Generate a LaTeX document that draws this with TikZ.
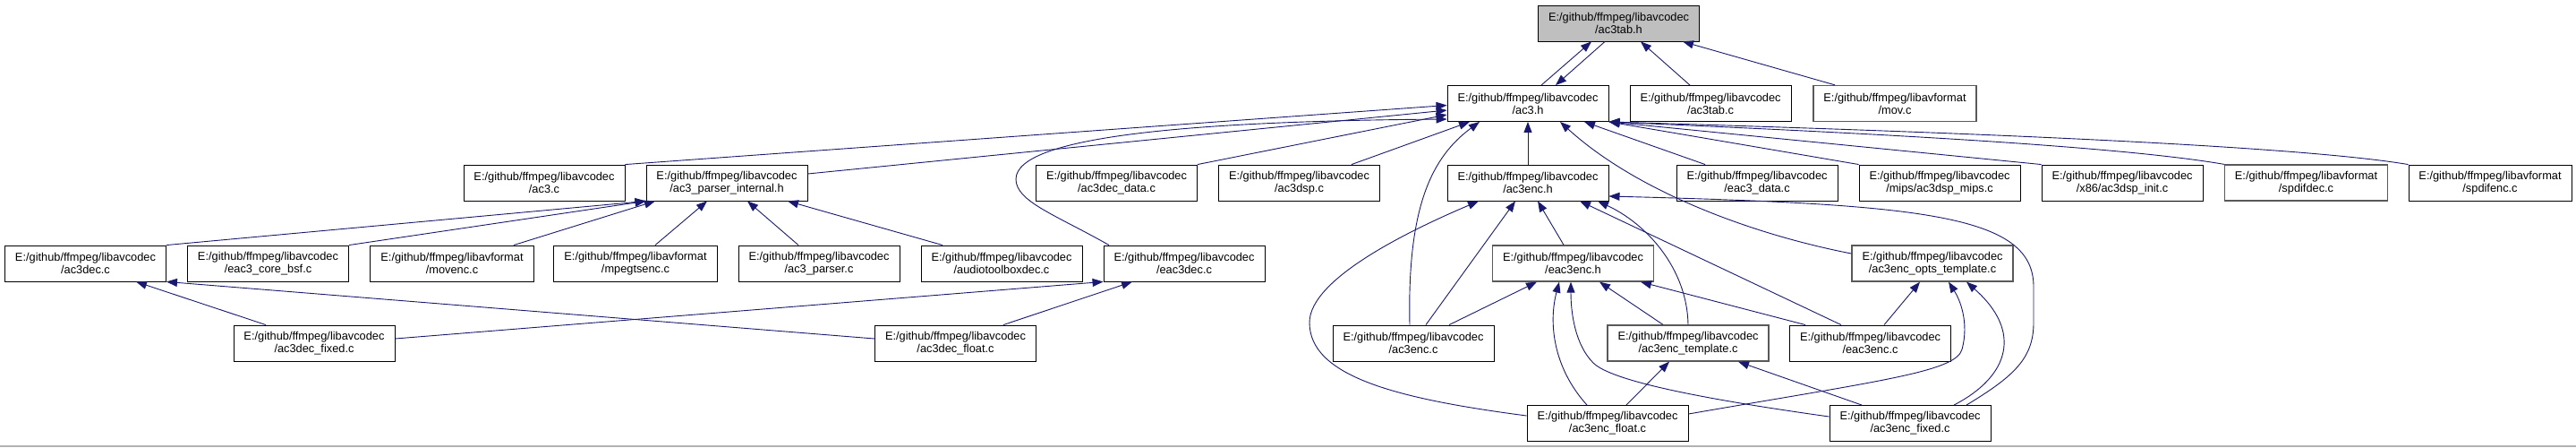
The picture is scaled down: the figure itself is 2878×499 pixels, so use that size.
\documentclass[tikz,border=0pt]{standalone}
\usepackage{fontspec}
\setmainfont{Liberation Sans}
\usepackage{xcolor}
\usepackage{tikz}
\usetikzlibrary{arrows.meta, positioning}
\definecolor{edgeblue}{HTML}{191970}
\newcommand{\avc}[1]{E:/github/ffmpeg/libavcodec\\/#1}
\newcommand{\avf}[1]{E:/github/ffmpeg/libavformat\\/#1}

\begin{document}
\begin{tikzpicture}[x=1pt, y=-1pt,
  file/.style={draw=black, fill=white, line width=0.9pt, minimum height=40pt, inner xsep=11.5pt, inner ysep=2pt, align=center, font=\fontsize{12.8}{14}\selectfont},
  grayfile/.style={file, draw=black!65, line width=1.3pt},
  focus/.style={file, fill=black!25},
  dep/.style={edgeblue, line width=0.9pt, -{Triangle[length=12pt, width=9pt]}}
]
  \useasboundingbox (0,0) rectangle (2878,499);
  \draw[black!30, line width=1.5pt] (0,498.2) -- (2878,498.2);

  % Row 0
  \node[focus] (ac3tabh) at (1808.5,26) {\avc{ac3tab.h}};

  % Row 1
  \node[file] (ac3h) at (1707,115.5) {\avc{ac3.h}};
  \node[file] (ac3tabc) at (1911,115.5) {\avc{ac3tab.c}};
  \node[grayfile] (movc) at (2117,115.5) {\avf{mov.c}};

  % Row 2
  \node[file] (ac3c) at (608,204) {\avc{ac3.c}};
  \node[file] (apih) at (812,204) {\avc{ac3\_parser\_internal.h}};
  \node[file] (ac3decdata) at (1247.5,204) {\avc{ac3dec\_data.c}};
  \node[file] (ac3dsp) at (1451.5,204) {\avc{ac3dsp.c}};
  \node[file] (ac3ench) at (1707,204) {\avc{ac3enc.h}};
  \node[file] (eac3data) at (1963,204) {\avc{eac3\_data.c}};
  \node[file] (mips) at (2167,204) {\avc{mips/ac3dsp\_mips.c}};
  \node[file] (x86) at (2371,204) {\avc{x86/ac3dsp\_init.c}};
  \node[grayfile] (spdifdec) at (2576.5,204) {\avf{spdifdec.c}};
  \node[file] (spdifenc) at (2782,204) {\avf{spdifenc.c}};

  % Row 3
  \node[file] (ac3decc) at (95.5,294) {\avc{ac3dec.c}};
  \node[file] (eac3corebsf) at (299.5,294) {\avc{eac3\_core\_bsf.c}};
  \node[file] (movenc) at (505,294) {\avf{movenc.c}};
  \node[file] (mpegtsenc) at (710,294) {\avf{mpegtsenc.c}};
  \node[file] (ac3parser) at (915,294) {\avc{ac3\_parser.c}};
  \node[file] (atbdec) at (1119,294) {\avc{audiotoolboxdec.c}};
  \node[file] (eac3decc) at (1323,294) {\avc{eac3dec.c}};
  \node[grayfile] (eac3ench) at (1757.5,294) {\avc{eac3enc.h}};
  \node[grayfile] (optstpl) at (2159,294) {\avc{ac3enc\_opts\_template.c}};

  % Row 4
  \node[file] (ac3decfixed) at (351,383) {\avc{ac3dec\_fixed.c}};
  \node[file] (ac3decfloat) at (1067.5,383) {\avc{ac3dec\_float.c}};
  \node[file] (ac3encc) at (1579,383) {\avc{ac3enc.c}};
  \node[grayfile] (enctpl) at (1886,383) {\avc{ac3enc\_template.c}};
  \node[file] (eac3encc) at (2089.5,383) {\avc{eac3enc.c}};

  % Row 5
  \node[file] (encfloat) at (1796,472.5) {\avc{ac3enc\_float.c}};
  \node[file] (encfixed) at (2134,472.5) {\avc{ac3enc\_fixed.c}};

  % into ac3tab.h
  \draw[dep] ([xshift=15pt]ac3h.north) -- ([xshift=-30.5pt]ac3tabh.south);
  \draw[dep] ([xshift=-15.5pt]ac3tabh.south) -- ([xshift=31pt]ac3h.north);
  \draw[dep] ([xshift=-23pt]ac3tabc.north) -- ([xshift=24.5pt]ac3tabh.south);
  \draw[dep] ([xshift=-67pt]movc.north) -- ([xshift=71.5pt]ac3tabh.south);

  % into ac3.h
  \draw[dep] (ac3c.north east) -- ([yshift=-2pt]ac3h.west);
  \draw[dep] ([yshift=10pt]apih.east) -- ([yshift=-7.5pt]ac3h.west);
  \draw[dep] (ac3decdata.north east) -- ([yshift=-12.5pt]ac3h.west);
  \draw[dep] ([xshift=-84pt]eac3decc.north) .. controls (1180,240) and (1135,225) .. (1135,200)
    .. controls (1135,150) and (1350,135) .. ([yshift=-17.5pt]ac3h.west);
  \draw[dep] ([xshift=58.5pt]ac3dsp.north) -- ([xshift=-65pt]ac3h.south);
  \draw[dep] ([xshift=-4pt]ac3encc.north) .. controls (1572,230) and (1600,175) .. ([xshift=-54pt]ac3h.south);
  \draw[dep] (ac3ench) -- (ac3h);
  \draw[dep] ([yshift=11pt]optstpl.west) .. controls (1960,262) and (1830,215) .. ([xshift=36pt]ac3h.south);
  \draw[dep] ([xshift=-58pt]eac3data.north) -- ([xshift=63pt]ac3h.south);
  \draw[dep] (mips.north west) -- (ac3h.south east);
  \draw[dep] (x86.north west) -- (ac3h.south east);
  \draw[dep] (spdifdec.north west) .. controls (2350,160) and (2000,145) .. (ac3h.south east);
  \draw[dep] (spdifenc.north west) .. controls (2550,160) and (2100,145) .. (ac3h.south east);

  % into ac3_parser_internal.h
  \draw[dep] (ac3decc.north east) -- (apih.south west);
  \draw[dep] (eac3corebsf.north east) -- (apih.south west);
  \draw[dep] ([xshift=69pt]movenc.north) -- ([xshift=-80pt]apih.south);
  \draw[dep] ([xshift=22pt]mpegtsenc.north) -- ([xshift=-22pt]apih.south);
  \draw[dep] ([xshift=-23pt]ac3parser.north) -- ([xshift=23pt]apih.south);
  \draw[dep] ([xshift=-66pt]atbdec.north) -- ([xshift=68pt]apih.south);

  % into ac3dec.c / eac3dec.c
  \draw[dep] ([xshift=-54pt]ac3decfixed.north) -- ([xshift=56.5pt]ac3decc.south);
  \draw[dep] ([yshift=5pt]ac3decfloat.west) -- (ac3decc.south east);
  \draw[dep] ([yshift=5pt]ac3decfixed.east) -- (eac3decc.south west);
  \draw[dep] ([xshift=53.5pt]ac3decfloat.north) -- ([xshift=-58pt]eac3decc.south);

  % into ac3enc.h
  \draw[dep] ([xshift=14pt]ac3encc.north) -- ([xshift=-14pt]ac3ench.south);
  \draw[dep] ([yshift=8.5pt]encfloat.west) .. controls (1560,445) and (1463,420) .. (1463,360)
    .. controls (1463,310) and (1580,255) .. ([xshift=-55pt]ac3ench.south);
  \draw[dep] ([xshift=-10.5pt]eac3ench.north) -- ([xshift=11pt]ac3ench.south);
  \draw[dep] ([xshift=-32.5pt]eac3encc.north) -- ([xshift=58pt]ac3ench.south);
  \draw[dep] (enctpl.north) .. controls (1885,300) and (1840,250) .. ([xshift=78pt]ac3ench.south);
  \draw[dep] ([xshift=63pt]encfixed.north) .. controls (2250,420) and (2272,400) .. (2272,360) -- (2272,320)
    .. controls (2272,240) and (2150,228) .. ([yshift=-15pt]ac3ench.east);

  % into eac3enc.h
  \draw[dep] ([xshift=40pt]ac3encc.north) -- ([xshift=-40.5pt]eac3ench.south);
  \draw[dep] ([xshift=-23pt]encfloat.north) .. controls (1735,410) and (1730,360) .. ([xshift=-15.5pt]eac3ench.south);
  \draw[dep] ([yshift=7.5pt]encfixed.west) .. controls (1900,445) and (1800,425) .. (1780,405)
    .. controls (1760,385) and (1755,350) .. ([xshift=-2.5pt]eac3ench.south);
  \draw[dep] ([xshift=-28pt]enctpl.north) -- ([xshift=29.5pt]eac3ench.south);
  \draw[dep] ([xshift=-72.5pt]eac3encc.north) -- ([xshift=75.5pt]eac3ench.south);

  % into ac3enc_template.c
  \draw[dep] ([xshift=21pt]encfloat.north) -- ([xshift=-21pt]enctpl.south);
  \draw[dep] ([xshift=-54pt]encfixed.north) -- ([xshift=56pt]enctpl.south);

  % into ac3enc_opts_template.c
  \draw[dep] ([xshift=15.5pt]eac3encc.north) -- ([xshift=-14pt]optstpl.south);
  \draw[dep] ([yshift=10.5pt]encfloat.east) .. controls (2100,425) and (2185,415) .. (2192,390)
    .. controls (2200,360) and (2190,335) .. ([xshift=18pt]optstpl.south);
  \draw[dep] ([xshift=49pt]encfixed.north) .. controls (2245,420) and (2260,370) .. ([xshift=38pt]optstpl.south);
\end{tikzpicture}
\end{document}
